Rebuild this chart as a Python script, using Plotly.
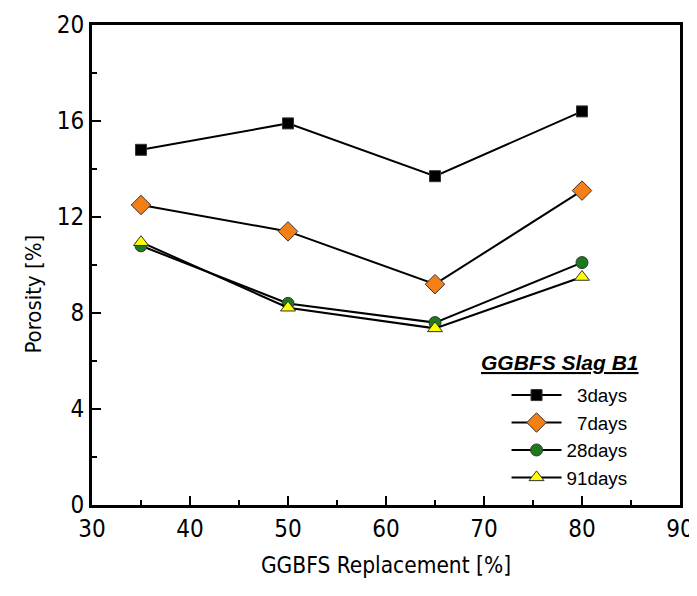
import plotly.graph_objects as go

replacement = [35, 50, 65, 80]
series_names = ["3days", "7days", "28days", "91days"]
legend_labels = ["\u00a0\u00a03days", "\u00a0\u00a07days", "28days", "91days"]
porosity_3d = [14.8, 15.9, 13.7, 16.4]
porosity_7d = [12.5, 11.4, 9.2, 13.1]
porosity_28d = [10.8, 8.4, 7.6, 10.1]
porosity_91d = [10.95, 8.22, 7.36, 9.5]

x_ticks = [30, 40, 50, 60, 70, 80, 90]
y_ticks = [0, 4, 8, 12, 16, 20]

styles = [
    dict(symbol="square", color="black", size=11),
    dict(symbol="diamond", color="#F57F17", size=15),
    dict(symbol="circle", color="#1B7A1B", size=12),
    dict(symbol="triangle-up", color="#FFFF00", size=13),
]
values = [porosity_3d, porosity_7d, porosity_28d, porosity_91d]

fig = go.Figure()
for name, lab, vals, st in zip(series_names, legend_labels, values, styles):
    fig.add_trace(go.Scatter(
        x=replacement, y=vals, name=lab, mode="lines+markers",
        line=dict(color="black", width=2),
        marker=dict(symbol=st["symbol"], color=st["color"], size=st["size"],
                    line=dict(color="#333333", width=1)),
    ))

cond = "DejaVu Sans Condensed, DejaVu Sans"
tick_font = dict(family=cond, size=24, color="black")
axis_common = dict(
    showline=True, linecolor="black", linewidth=3, mirror=True,
    ticks="inside", ticklen=9, tickwidth=2, tickcolor="black",
    showgrid=False, zeroline=False, tickfont=tick_font, automargin=False,
)
fig.update_xaxes(range=[30, 90], tickvals=x_ticks,
                 minor=dict(dtick=5, ticks="inside", ticklen=5, tickwidth=2, tickcolor="black"),
                 title=dict(text="GGBFS Replacement [%]", font=dict(family=cond, size=22.5, color="black"), standoff=16),
                 **axis_common)
fig.update_yaxes(range=[0, 20], tickvals=y_ticks,
                 minor=dict(dtick=2, ticks="inside", ticklen=5, tickwidth=2, tickcolor="black"),
                 **axis_common)

# y-axis title placed as annotation (sits slightly below the axis middle in the reference)
fig.add_annotation(xref="paper", yref="paper", x=-0.099, y=0.44, xanchor="center", yanchor="middle",
                   text="Porosity [%]", textangle=-90, showarrow=False,
                   font=dict(family=cond, size=22, color="black"))

fig.add_annotation(xref="paper", yref="paper", x=0.658, y=0.296, xanchor="left", yanchor="middle",
                   text="<b><i><u>GGBFS Slag B1</u></i></b>", showarrow=False,
                   font=dict(family="Liberation Sans, Arial", size=21, color="black"))

fig.update_layout(
    width=689, height=588,
    margin=dict(l=84, r=17, t=17, b=91),
    plot_bgcolor="white", paper_bgcolor="white",
    showlegend=True,
    legend=dict(x=0.705, y=0.268, xanchor="left", yanchor="top",
                bgcolor="rgba(0,0,0,0)", borderwidth=0,
                font=dict(family="Liberation Sans, Arial", size=18.8, color="black"),
                tracegroupgap=0, itemwidth=50),
)

fig.write_html("out.html")
